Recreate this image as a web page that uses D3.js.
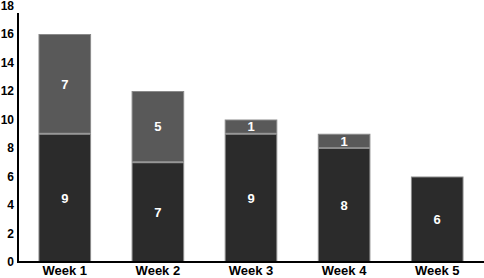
<!DOCTYPE html>
<html>
<head>
<meta charset="utf-8">
<script src="https://cdn.jsdelivr.net/npm/d3@7"></script>
<style>
  body { margin: 0; background: #fff; }
  svg { display: block; font-family: "Liberation Sans", Arial, sans-serif; }
</style>
</head>
<body>
<div id="chart"></div>
<script>
const weeks = ["Week 1", "Week 2", "Week 3", "Week 4", "Week 5"];
const bottomValues = [9, 7, 9, 8, 6];
const topValues = [7, 5, 1, 1, 0];
const yTicks = [0, 2, 4, 6, 8, 10, 12, 14, 16, 18];

const width = 484, height = 278;
const colors = ["#2b2b2b", "#595959"];

const data = weeks.map((w, i) => ({ week: w, bottom: bottomValues[i], top: topValues[i] }));
const stack = d3.stack().keys(["bottom", "top"])(data);

const x = d3.scaleBand()
    .domain(weeks)
    .range([18, 484])
    .paddingInner(0.435)
    .paddingOuter(0.22);

const y = d3.scaleLinear()
    .domain([0, 18])
    .range([262, 5.5]);

const svg = d3.select("#chart")
  .append("svg")
    .attr("width", width)
    .attr("height", height);

// bars
const layers = svg.append("g")
  .selectAll("g")
  .data(stack)
  .join("g")
    .attr("fill", (d, i) => colors[i]);

layers.selectAll("rect")
  .data(d => d.filter(s => s[1] > s[0]))
  .join("rect")
    .attr("x", d => x(d.data.week) + 0.5)
    .attr("y", d => y(d[1]) + 0.5)
    .attr("width", x.bandwidth() - 1)
    .attr("height", d => y(d[0]) - y(d[1]) - 1)
    .attr("stroke", "#8a8a8a")
    .attr("stroke-width", 1);

// value labels
layers.selectAll("text")
  .data(d => d.filter(s => s[1] > s[0]))
  .join("text")
    .attr("x", d => x(d.data.week) + x.bandwidth() / 2)
    .attr("y", d => (y(d[0]) + y(d[1])) / 2)
    .attr("dy", "0.36em")
    .attr("text-anchor", "middle")
    .attr("fill", "#fff")
    .attr("font-size", 13)
    .attr("font-weight", "bold")
    .text(d => d[1] - d[0]);

// y axis
const yAxis = svg.append("g")
    .attr("transform", "translate(18,0)")
    .call(d3.axisLeft(y).tickValues(yTicks).tickSize(0).tickPadding(4))
    .call(g => g.select(".domain").remove());
yAxis.selectAll("text")
    .attr("font-size", 12)
    .attr("font-weight", "bold")
    .attr("fill", "#000")
    .attr("font-family", "Liberation Sans, Arial, sans-serif");
yAxis.append("line")
    .attr("x1", 0).attr("x2", 0)
    .attr("y1", 13).attr("y2", 263)
    .attr("stroke", "#000")
    .attr("stroke-width", 2);

// x axis
const xAxis = svg.append("g")
    .attr("transform", "translate(0,262)")
    .call(d3.axisBottom(x).tickSize(0).tickPadding(4))
    .call(g => g.select(".domain").remove());
xAxis.selectAll("text")
    .attr("font-size", 13)
    .attr("font-weight", "bold")
    .attr("fill", "#000")
    .attr("font-family", "Liberation Sans, Arial, sans-serif");
xAxis.append("line")
    .attr("x1", 17).attr("x2", 484)
    .attr("y1", 0).attr("y2", 0)
    .attr("stroke", "#000")
    .attr("stroke-width", 2);
</script>
</body>
</html>
